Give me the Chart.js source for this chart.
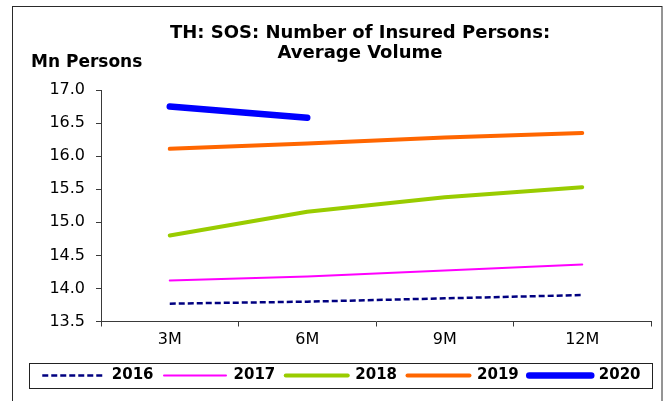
<!DOCTYPE html>
<html>
<head>
<meta charset="utf-8">
<title>TH: SOS: Number of Insured Persons</title>
<script src="https://cdn.jsdelivr.net/npm/chart.js@4.4.1/dist/chart.umd.min.js"></script>
<style>
    body { margin: 0; background: #ffffff; }
    #wrap { position: relative; width: 669px; height: 401px; }
</style>
</head>
<body>
<div id="wrap"><canvas id="sosChart"></canvas></div>
<script>
// values (Mn persons)
const periods = ['3M', '6M', '9M', '12M'];
const years = ['2016', '2017', '2018', '2019', '2020'];
const y2016 = [13.77, 13.80, 13.85, 13.90];
const y2017 = [14.12, 14.18, 14.27, 14.36];
const y2018 = [14.80, 15.16, 15.38, 15.53];
const y2019 = [16.11, 16.19, 16.28, 16.35];
const y2020 = [16.75, 16.58, null, null];
const yMin = 13.5, yMax = 17.0, yStep = 0.5;

const titleLines = ['TH: SOS: Number of Insured Persons:', 'Average Volume'];
const yAxisTitle = 'Mn Persons';

const FONT = "'DejaVu Sans', 'Liberation Sans', sans-serif";
const AXIS = '#3a3a3a';

// frame, title, unit label and the box round the legend
const decorPlugin = {
    id: 'decor',
    afterDraw: function(chart) {
        const ctx = chart.ctx;
        ctx.save();
        ctx.strokeStyle = '#2a2a2a';
        ctx.lineWidth = 1;
        ctx.strokeRect(12.5, 6.5, 649.5, 420);

        ctx.fillStyle = '#000';
        ctx.textAlign = 'center';
        ctx.textBaseline = 'alphabetic';
        ctx.font = 'bold 18px ' + FONT;
        ctx.fillText(titleLines[0], 360, 38);
        ctx.fillText(titleLines[1], 360, 58);

        ctx.textAlign = 'left';
        ctx.font = 'bold 17px ' + FONT;
        ctx.fillText(yAxisTitle, 31, 67);

        const boxes = chart.legend.legendHitBoxes;
        if (boxes && boxes.length) {
            const first = boxes[0];
            const last = boxes[boxes.length - 1];
            const mid = first.top + first.height / 2;
            const left = Math.round(first.left - 13) + 0.5;
            const right = Math.round(last.left + last.width + 11) + 0.5;
            ctx.strokeStyle = '#222';
            ctx.strokeRect(left, Math.round(mid - 13) + 0.5, right - left, 25);
        }
        ctx.restore();
    }
};

function makeSet(label, data, color, width, dash) {
    return {
        label: label,
        data: data,
        borderColor: color,
        backgroundColor: color,
        borderWidth: width,
        borderDash: dash || [],
        borderCapStyle: dash ? 'butt' : 'round',
        borderJoinStyle: 'round',
        pointRadius: 0,
        pointHoverRadius: 0,
        tension: 0,
        fill: false,
        spanGaps: false
    };
}

// legend lines should look like the series lines (dash, width, caps)
function legendLabels(chart) {
    const items = Chart.defaults.plugins.legend.labels.generateLabels(chart);
    items.forEach(function(item) {
        const ds = chart.data.datasets[item.datasetIndex];
        item.lineDash = ds.borderDash;
        item.lineWidth = ds.borderWidth;
        item.lineCap = ds.borderCapStyle;
        item.strokeStyle = ds.borderColor;
    });
    return items;
}

const ctx = document.getElementById('sosChart').getContext('2d');
const sosChart = new Chart(ctx, {
    type: 'line',
    data: {
        labels: periods,
        datasets: [
            makeSet(years[0], y2016, '#000080', 2.5, [6, 3]),
            makeSet(years[1], y2017, '#ff00ff', 2),
            makeSet(years[2], y2018, '#99cc00', 4),
            makeSet(years[3], y2019, '#ff6600', 4),
            makeSet(years[4], y2020, '#0000ff', 6.5)
        ]
    },
    options: {
        responsive: true,
        maintainAspectRatio: false,
        animation: false,
        layout: {
            padding: { top: 90, left: 20, right: 18, bottom: 8 }
        },
        plugins: {
            title: { display: false },
            tooltip: { enabled: false },
            legend: {
                display: true,
                position: 'bottom',
                align: 'end',
                labels: {
                    usePointStyle: true,
                    pointStyle: 'line',
                    pointStyleWidth: 62,
                    padding: 10.5,
                    color: '#000',
                    font: { family: FONT, size: 15, weight: 'bold' },
                    generateLabels: legendLabels
                }
            }
        },
        scales: {
            x: {
                offset: true,
                afterFit: function(scale) { scale.height = 36; },
                border: { display: true, color: AXIS, width: 1 },
                grid: {
                    display: true,
                    offset: true,
                    drawOnChartArea: false,
                    drawTicks: true,
                    tickLength: 5,
                    color: AXIS
                },
                ticks: {
                    color: '#000',
                    padding: 4,
                    maxRotation: 0,
                    font: { family: FONT, size: 16 }
                }
            },
            y: {
                min: yMin,
                max: yMax,
                afterFit: function(scale) { scale.width = 81; },
                border: { display: true, color: AXIS, width: 1 },
                grid: {
                    display: true,
                    drawOnChartArea: false,
                    drawTicks: true,
                    tickLength: 5,
                    color: AXIS
                },
                ticks: {
                    stepSize: yStep,
                    color: '#000',
                    padding: 11,
                    font: { family: FONT, size: 16 },
                    callback: function(value) { return Number(value).toFixed(1); }
                }
            }
        }
    },
    plugins: [decorPlugin]
});
</script>
</body>
</html>
